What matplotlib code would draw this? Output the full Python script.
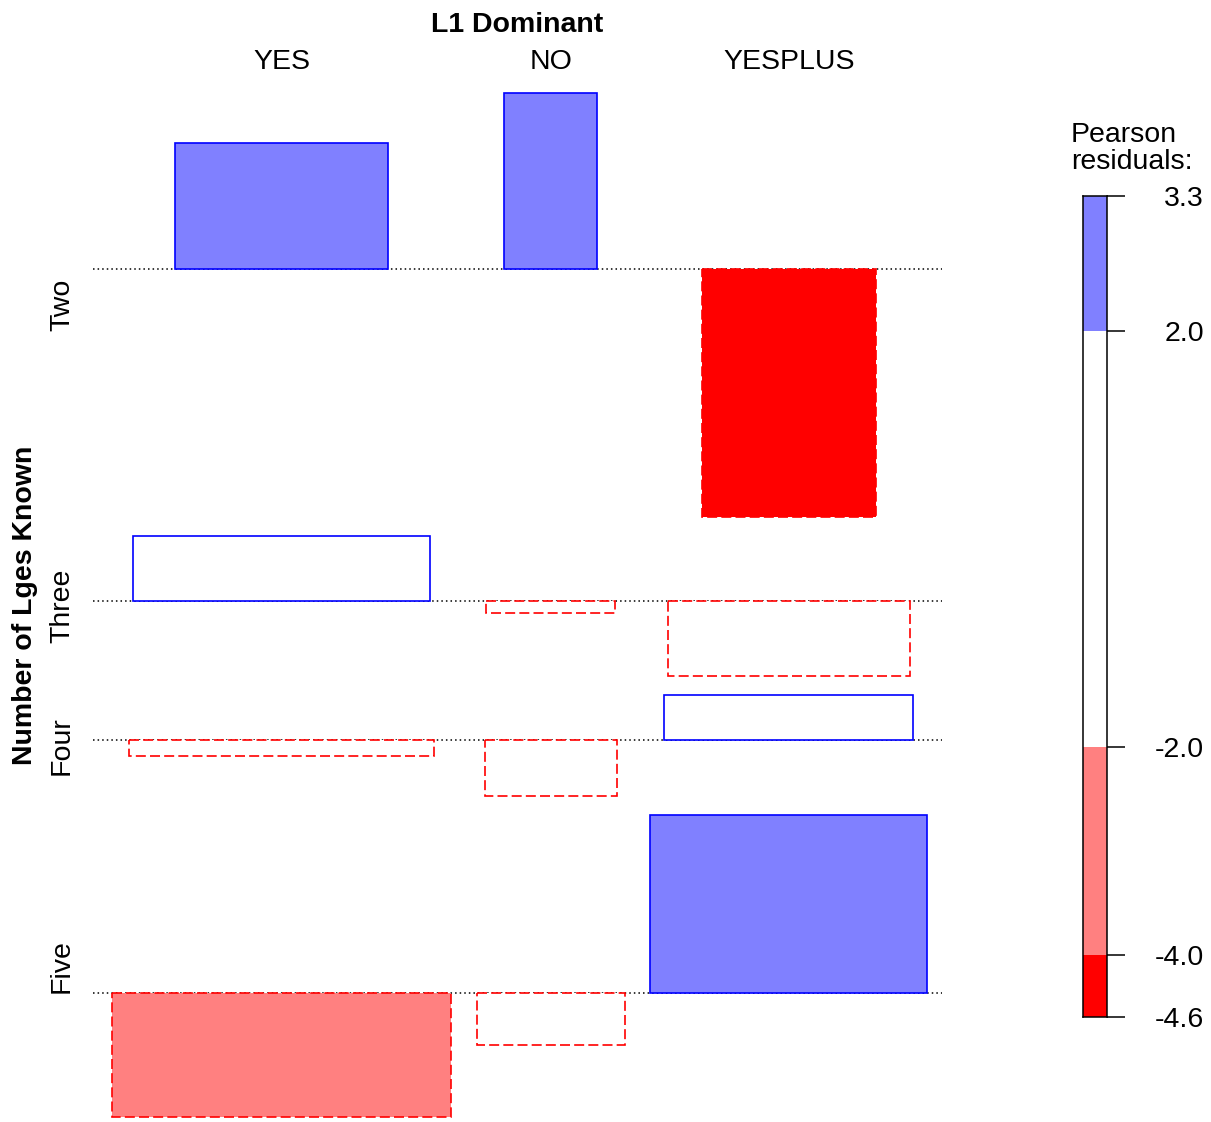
import numpy as np
import matplotlib
matplotlib.use("Agg")
import matplotlib.pyplot as plt
from matplotlib.patches import Rectangle
from matplotlib import transforms

# Association plot: Number of languages known x L1 dominance
row_levels = ["Two", "Three", "Four", "Five"]
col_levels = ["YES", "NO", "YESPLUS"]
row_share = [0.133, 0.258, 0.272, 0.337]   # row margins (proportions)
col_share = [0.539, 0.102, 0.359]          # column margins (proportions)
residuals = [
    [2.34, 3.27, -4.60],
    [1.21, -0.22, -1.39],
    [-0.28, -1.04, 0.85],
    [-2.30, -0.96, 3.30],
]
row_title = "Number of Lges Known"
col_title = "L1 Dominant"
legend_title = "Pearson\nresiduals:"
shade_cuts = [2, 4]

plt.rcParams["font.family"] = ["Liberation Sans", "DejaVu Sans"]
FS = 20.5

res = np.array(residuals, dtype=float)
widths = np.sqrt(np.outer(row_share, col_share))   # bar width ~ sqrt(expected)


def shade(r):
    a = abs(r)
    if a < shade_cuts[0]:
        fill = "white"
    elif a < shade_cuts[1]:
        fill = "#8080FF" if r > 0 else "#FF8080"
    else:
        fill = "#0000FF" if r > 0 else "#FF0000"
    edge = "#0000FF" if r >= 0 else "#FF0000"
    ls = "-" if r >= 0 else (0, (6, 2.5))
    return fill, edge, ls


# layout of the cells
gap_x, pad_l, pad_r = 0.0322, 0.024, 0.0186
gap_y = 0.35
col_w = widths.max(axis=0)
col_left = pad_l + np.concatenate([[0], np.cumsum(col_w + gap_x)[:-1]])
col_mid = col_left + col_w / 2
x_total = col_left[-1] + col_w[-1] + pad_r

up = np.maximum(res, 0).max(axis=1)
down = np.maximum(-res, 0).max(axis=1)
tops = -np.concatenate([[0], np.cumsum(up + down + gap_y)[:-1]])
base = tops - up
bottoms = base - down

W, H = 1211, 1122
fig = plt.figure(figsize=(W / 100, H / 100), dpi=100)
ax = fig.add_axes([93 / W, (H - 1117) / H, 849 / W, 1024 / H])
ax.set_xlim(0, x_total)
ax.set_ylim(bottoms[-1], tops[0])
ax.axis("off")

for i in range(len(row_levels)):
    ax.plot([0, x_total], [base[i], base[i]], color="black",
            linestyle=(0, (1, 2)), linewidth=1.1, zorder=1, clip_on=False)
    for j in range(len(col_levels)):
        w = widths[i, j]
        r = res[i, j]
        fill, edge, ls = shade(r)
        ax.add_patch(Rectangle((col_mid[j] - w / 2, base[i]), w, r,
                               facecolor=fill, edgecolor=edge, linestyle=ls,
                               linewidth=1.2, zorder=2, clip_on=False))

# column labels and title
tr_top = transforms.blended_transform_factory(ax.transData, fig.transFigure)
for j, lab in enumerate(col_levels):
    ax.text(col_mid[j], 1 - 62 / H, lab, transform=tr_top, ha="center",
            va="center", fontsize=FS)
ax.text(0.5, 1 - 25 / H, col_title, transform=transforms.blended_transform_factory(
    ax.transAxes, fig.transFigure), ha="center", va="center",
    fontsize=FS, fontweight="bold")

# row labels and title
tr_left = transforms.blended_transform_factory(fig.transFigure, ax.transData)
for i, lab in enumerate(row_levels):
    ax.text(62 / W, (tops[i] + bottoms[i]) / 2, lab, transform=tr_left,
            rotation=90, ha="center", va="center", fontsize=FS)
ax.text(25 / W, 0.5, row_title, transform=transforms.blended_transform_factory(
    fig.transFigure, ax.transAxes), rotation=90, ha="center", va="center",
    fontsize=FS, fontweight="bold")

# shading legend
rmin, rmax = res.min(), res.max()
cuts = sorted([-c for c in shade_cuts] + list(shade_cuts))
breaks = [rmin] + [c for c in cuts if rmin < c < rmax] + [rmax]
lax = fig.add_axes([1083 / W, (H - 1017) / H, 24 / W, 821 / H])
lax.set_xlim(0, 1)
lax.set_ylim(rmin, rmax)
for lo, hi in zip(breaks[:-1], breaks[1:]):
    fill, _, _ = shade((lo + hi) / 2)
    lax.bar(0.5, hi - lo, bottom=lo, width=1, color=fill, linewidth=0)
for sp in lax.spines.values():
    sp.set_linewidth(1.1)
lax.set_xticks([])
lax.set_yticks(breaks)
lax.tick_params(axis="y", left=False, right=True, labelleft=False,
                labelright=False, length=13, width=1.1, direction="out")
tr_leg = transforms.offset_copy(
    transforms.blended_transform_factory(lax.transAxes, lax.transData),
    fig=fig, x=0, y=-3, units="dots")
for b in breaks:
    lax.text((1204 - 1083) / 24, b, f"{b:.1f}", transform=tr_leg,
             ha="right", va="center", fontsize=FS)
fig.text(1071 / W, 1 - 122 / H, legend_title, ha="left", va="top",
         fontsize=FS, linespacing=1.05)

fig.savefig("out.png", dpi=100, facecolor="white")
